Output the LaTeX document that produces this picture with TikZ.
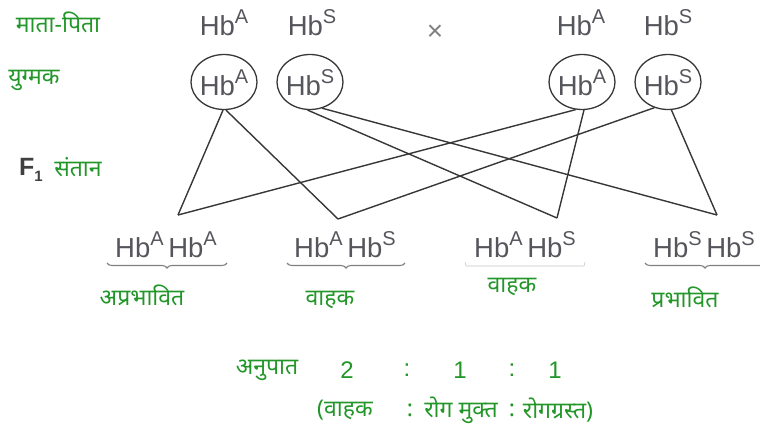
\documentclass[tikz,border=0pt]{standalone}
\usepackage{fontspec}
\setmainfont{Liberation Sans}
\newfontfamily\deva[Script=Devanagari]{Noto Sans}
\usetikzlibrary{shapes.geometric,decorations.pathreplacing}
\definecolor{lblgreen}{RGB}{34,150,40}
\definecolor{hbgray}{RGB}{85,85,92}
\definecolor{linegray}{RGB}{55,55,55}
\newcommand\hbx[1]{Hb\raisebox{0.42em}{\fontsize{20}{20}\selectfont #1}}
\begin{document}
\begin{tikzpicture}[x=1pt,y=-1pt,
  hb/.style={font=\fontsize{27.5}{27.5}\selectfont, text=hbgray, inner sep=0, anchor=base},
  lbl/.style={font=\deva\fontsize{23}{23}\selectfont, text=lblgreen, inner sep=0},
  num/.style={font=\fontsize{24}{24}\selectfont, text=lblgreen, inner sep=0},
  gam/.style={draw=linegray, line width=1.3pt, ellipse, minimum width=66pt, minimum height=55pt, inner sep=0},
  link/.style={draw=linegray, line width=1.4pt},
  brc/.style={decorate, decoration={brace, mirror, amplitude=5pt}, draw=gray, line width=1.1pt},
  faint/.style={draw=gray!45, line width=0.6pt}]
\useasboundingbox (0,0) rectangle (760,426);
% left labels
\node[lbl] (lp) at (58,22) {माता-पिता};
\node[lbl] (lg) at (34,80) {युग्मक};
\node[inner sep=0, text=black!75, font=\bfseries\fontsize{25}{25}\selectfont] (lf) at (31,170) {F\raisebox{-0.22em}{\fontsize{15}{15}\selectfont 1}};
\node[lbl] (ls) at (78,167) {संतान};
% parents
\node[hb] (p1) at (224,35) {\hbx{A}};
\node[hb] (p2) at (312,35) {\hbx{S}};
\node[inner sep=0, text=gray, font=\fontsize{28}{28}\selectfont] (cross) at (435,33) {×};
\node[hb] (p3) at (581,35) {\hbx{A}};
\node[hb] (p4) at (668,35) {\hbx{S}};
% gametes
\node[gam] (g1) at (224,82) {};
\node[gam] (g2) at (310,82) {};
\node[gam] (g3) at (582,82) {};
\node[gam] (g4) at (668,82) {};
\node[hb] (t1) at (224,95) {\hbx{A}};
\node[hb] (t2) at (310,95) {\hbx{S}};
\node[hb] (t3) at (582,95) {\hbx{A}};
\node[hb] (t4) at (668,95) {\hbx{S}};
% offspring vertices
\coordinate (v1) at (178,215);
\coordinate (v2) at (338,219);
\coordinate (v3) at (557,218);
\coordinate (v4) at (717,215);
\draw[link] (g1.-92) -- (v1);
\draw[link] (g1.-86) -- (v2);
\draw[link] (g3.-103) -- (v1);
\draw[link] (g3.-86) -- (v3);
\draw[link] (g2.-95) -- (v3);
\draw[link] (g2.-65) -- (v4);
\draw[link] (g4.-118) -- (v2);
\draw[link] (g4.-83) -- (v4);
% offspring
\node[hb] (o1) at (166,257) {\hbx{A}\,\hbx{A}};
\node[hb] (o2) at (345,257) {\hbx{A}\,\hbx{S}};
\node[hb] (o3) at (525,257) {\hbx{A}\,\hbx{S}};
\node[hb] (o4) at (704,257) {\hbx{S}\,\hbx{S}};
\draw[brc] (107,263) -- (227,263);
\draw[brc] (287,263) -- (405,263);
\draw[faint] (465,262) -- (466,266) -- (584,266) -- (585,262);
\draw[brc] (645,263) -- (765,263);
\node[lbl] (a1) at (142,295) {अप्रभावित};
\node[lbl] (a2) at (330,300) {वाहक};
\node[lbl] (a3) at (512,287) {वाहक};
\node[lbl] (a4) at (685,297) {प्रभावित};
% ratio
\node[lbl] (r0) at (267,370) {अनुपात};
\node[num] (r1) at (347,370) {2};
\node[num] (r2) at (407,370) {:};
\node[num] (r3) at (460,370) {1};
\node[num] (r4) at (512,370) {:};
\node[num] (r5) at (555,370) {1};
\node[lbl] (s1) at (345,410) {(वाहक};
\node[lbl] (s2) at (410,410) {:};
\node[lbl] (s3) at (461,410) {रोग मुक्त};
\node[lbl] (s4) at (512,410) {:};
\node[lbl] (s5) at (558,410) {रोगग्रस्त)};
\end{tikzpicture}
\end{document}
